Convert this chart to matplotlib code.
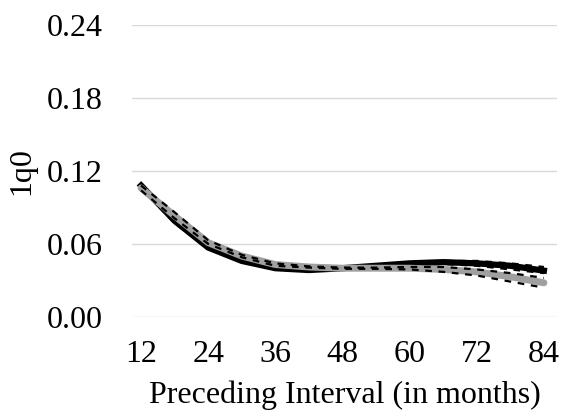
import matplotlib
matplotlib.use('Agg')
import matplotlib.pyplot as plt

plt.rcParams['font.family'] = ['Liberation Serif', 'DejaVu Serif']

months = [12, 18, 24, 30, 36, 42, 48, 54, 60, 66, 72, 78, 84]
black_q = [0.108, 0.079, 0.057, 0.046, 0.040, 0.0385, 0.040, 0.042, 0.044, 0.045, 0.044, 0.042, 0.038]
black_lo = [0.106, 0.077, 0.056, 0.045, 0.039, 0.038, 0.0395, 0.041, 0.043, 0.0435, 0.042, 0.039, 0.036]
black_hi = [0.110, 0.081, 0.058, 0.047, 0.041, 0.039, 0.0405, 0.043, 0.045, 0.046, 0.046, 0.044, 0.041]
gray_q = [0.106, 0.083, 0.061, 0.050, 0.043, 0.041, 0.040, 0.040, 0.040, 0.039, 0.037, 0.033, 0.028]
gray_lo = [0.104, 0.081, 0.060, 0.049, 0.042, 0.0405, 0.0395, 0.0395, 0.039, 0.037, 0.034, 0.029, 0.024]
gray_hi = [0.108, 0.086, 0.063, 0.051, 0.044, 0.0415, 0.0405, 0.0405, 0.041, 0.041, 0.039, 0.036, 0.032]

yticks = [0.00, 0.06, 0.12, 0.18, 0.24]
xticks = [12, 24, 36, 48, 60, 72, 84]

fig = plt.figure(figsize=(5.67, 4.18), dpi=100)
ax = fig.add_axes([0.233, 0.242, 0.749, 0.698])

dash = (0, (3, 3))
ax.plot(months, black_q, color='black', lw=4.5, zorder=3)
ax.plot(months, black_lo, color='black', lw=1.6, ls=dash, zorder=3)
ax.plot(months, black_hi, color='black', lw=1.6, ls=dash, zorder=3)
ax.plot(months, gray_q, color='#a0a0a0', lw=5, solid_capstyle='round', zorder=4)
ax.plot(months, gray_lo, color='black', lw=1.6, ls=dash, zorder=5)
ax.plot(months, gray_hi, color='black', lw=1.6, ls=dash, zorder=5)

ax.set_ylim(0, 0.24)
ax.set_xlim(10.4, 86.3)
ax.set_yticks(yticks)
ax.set_yticklabels(['%.2f' % v for v in yticks])
ax.set_xticks(xticks)
ax.grid(axis='y', color='#d9d9d9', lw=1)
ax.set_axisbelow(True)
for s in ax.spines.values():
    s.set_visible(False)
ax.tick_params(length=0, labelsize=23)
ax.tick_params(axis='x', pad=17)
ax.tick_params(axis='y', pad=21)
ax.set_xlabel('Preceding Interval (in months)', fontsize=23, labelpad=8)
ax.set_ylabel('1q0', fontsize=23)
ax.yaxis.set_label_coords(-0.226, 0.5)

fig.savefig('out.png', dpi=100)
